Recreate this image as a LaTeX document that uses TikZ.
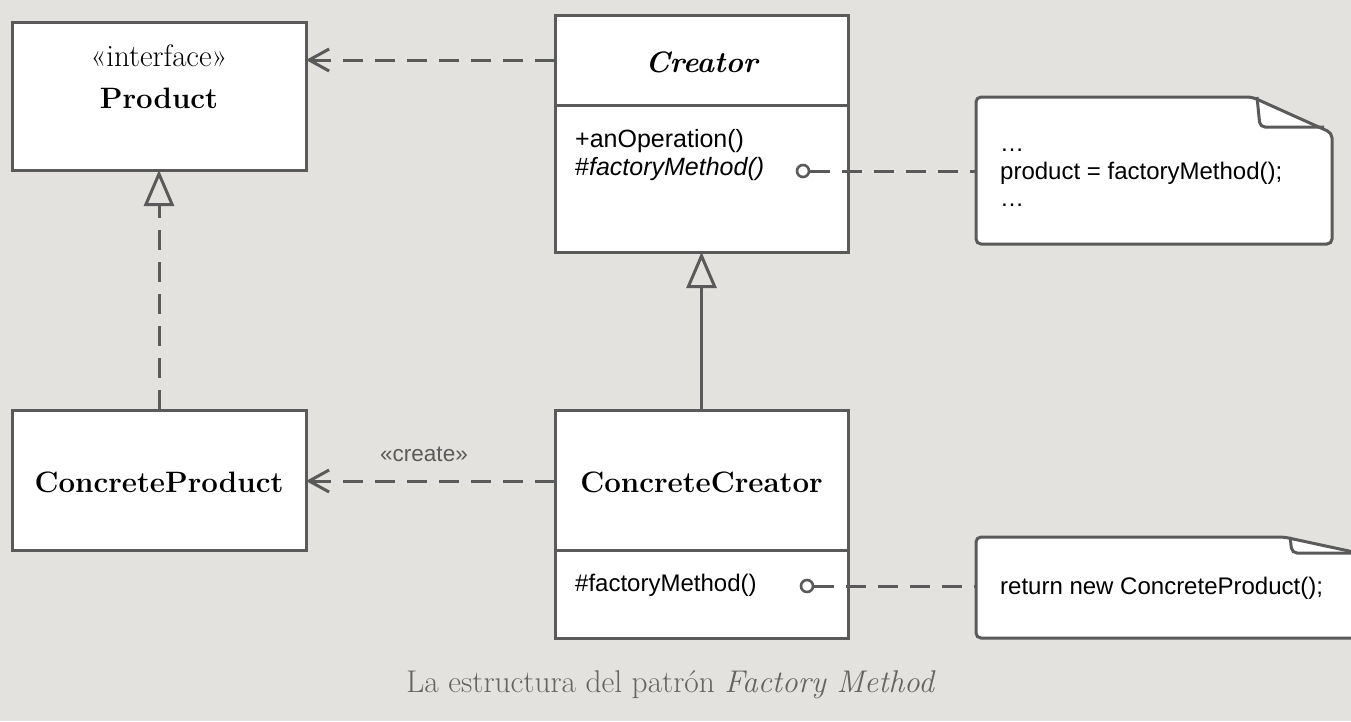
\documentclass[tikz,border=0pt]{standalone}
\usepackage{fontspec}
\newfontfamily\uisans{Liberation Sans}
\usetikzlibrary{arrows.meta}
\definecolor{bg}{RGB}{228,226,222}
\definecolor{ln}{RGB}{90,90,90}
\definecolor{captxt}{RGB}{100,100,100}
\begin{document}
\begin{tikzpicture}[x=1pt,y=-1pt,
  box/.style={draw=ln, line width=3pt, fill=white, inner sep=0pt, outer sep=0pt},
  conn/.style={draw=ln, line width=3pt},
  dsh/.style={conn, dash pattern=on 20pt off 12pt},
  title/.style={font=\fontsize{29.5}{34}\selectfont\bfseries, inner sep=0pt},
  stereo/.style={font=\fontsize{31}{34}\selectfont, inner sep=0pt},
  sans/.style={font=\uisans\fontsize{24}{27.5}\selectfont, inner sep=0pt, align=left},
  lolli/.style={circle, draw=ln, line width=2.6pt, fill=white, minimum size=12pt, inner sep=0pt},
  notebox/.style={draw=ln, line width=3pt, fill=white, rounded corners=5pt},
  fold/.style={draw=ln, line width=3pt, rounded corners=5pt},
  openv/.style={-{Straight Barb[length=20pt,width=22pt]}},
  inherit/.style={-{Triangle[open,length=36pt,width=30pt]}}
]
\fill[bg] (0,0) rectangle (1351,721);
\useasboundingbox (0,0) rectangle (1351,721);
\clip (0,0) rectangle (1351,721);

% boxes
\node[box, minimum width=294pt, minimum height=148pt] (product) at (159,96) {};
\node[stereo] (prodst) at (159,56) {«interface»};
\node[title] (prodname) at (159,98) {Product};

\node[box, minimum width=293pt, minimum height=237pt] (creator) at (701.5,133.5) {};
\coordinate (cdl) at (555,105);
\coordinate (cdr) at (848,105);
\draw[conn] (cdl) -- (cdr);
\node[title, font=\fontsize{29.5}{34}\selectfont\bfseries\itshape] (creatorname) at (701.5,62) {Creator};
\node[sans, font=\uisans\fontsize{25}{28}\selectfont, anchor=west] (cops) at (575,155) {+anOperation()\\\#\textit{factoryMethod()}};

\node[box, minimum width=294pt, minimum height=140pt] (cproduct) at (159,480) {};
\node[title] (cprodname) at (159,482) {ConcreteProduct};

\node[box, minimum width=293pt, minimum height=228pt] (ccreator) at (701.5,524) {};
\coordinate (ccdl) at (555,550);
\coordinate (ccdr) at (848,550);
\draw[conn] (ccdl) -- (ccdr);
\node[title] (ccreatorname) at (701.5,482) {ConcreteCreator};
\node[sans, anchor=west] (ccops) at (575,585) {\#factoryMethod()};

% notes
\draw[notebox] (976,97) -- (1252,97) -- (1332,133) -- (1332,244) -- (976,244) -- cycle;
\draw[fold] (1257,97) -- (1260,127) -- (1324,127);
\node[sans, anchor=west] (note1txt) at (1000,178) {…\\product = factoryMethod();\\…};
\coordinate (n1) at (976,171);

\draw[notebox] (976,537) -- (1284,537) -- (1400,562) -- (1400,638) -- (976,638) -- cycle;
\draw[fold] (1290,537) -- (1292,553) -- (1380,553);
\node[sans, anchor=west] (note2txt) at (1000,588) {return new ConcreteProduct();};
\coordinate (n2) at (976,586);

% connectors
\coordinate (crl) at (555,60);
\coordinate (prr) at (306,60);
\draw[dsh, openv] (crl) -- (prr);

\draw[dsh, inherit] (cproduct.north) -- (product.south);
\draw[conn, inherit] (ccreator.north) -- (creator.south);

\coordinate (ccl) at (555,481);
\coordinate (cpr) at (306,481);
\draw[dsh, openv] (ccl) -- (cpr);
\node[font=\uisans\fontsize{22.5}{26}\selectfont, text=ln, inner sep=0pt] (createlbl) at (424,454) {«create»};

\node[lolli] (lp1) at (803,171) {};
\draw[dsh] (lp1) -- (n1);
\node[lolli] (lp2) at (807,586) {};
\draw[dsh] (lp2) -- (n2);

% caption
\node[font=\fontsize{31.4}{36}\selectfont, text=captxt, inner sep=0pt] (caption) at (671,685) {La estructura del patrón \textit{Factory Method}};
\end{tikzpicture}
\end{document}
